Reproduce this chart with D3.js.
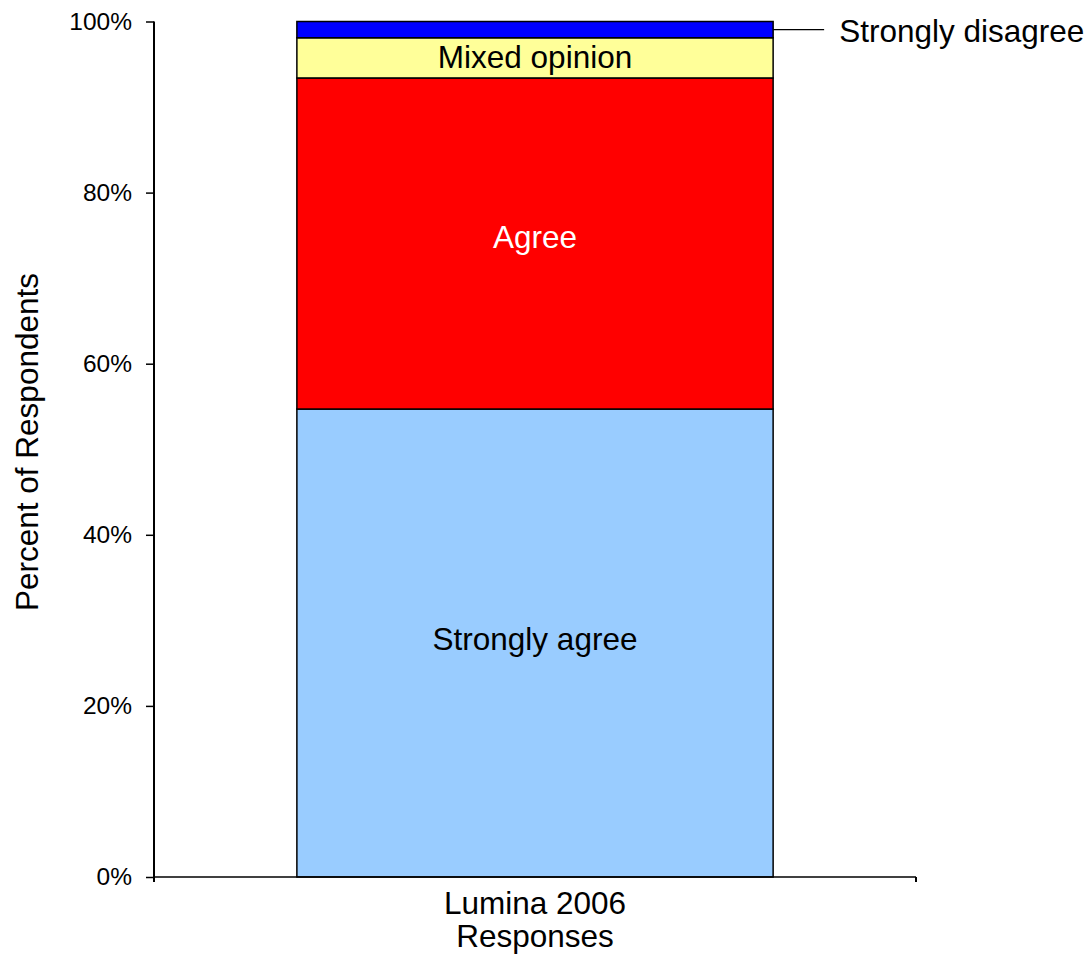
<!DOCTYPE html>
<html>
<head>
<meta charset="utf-8">
<script src="https://cdn.jsdelivr.net/npm/d3@7"></script>
<style>
  body { margin: 0; background: #fff; }
  svg text { font-family: "Liberation Sans", Arial, sans-serif; }
</style>
</head>
<body>
<div id="chart"></div>
<script>
'use strict';

// category on the x axis (two lines)
var categories = ['Lumina 2006 Responses'];
var category_lines = ['Lumina 2006', 'Responses'];

// stack order, bottom to top
var series_names = ['Strongly agree', 'Agree', 'Mixed opinion', 'Strongly disagree'];
var series_values = [54.7, 38.7, 4.7, 1.9];
var series_colors = ['#99ccff', '#ff0000', '#ffff99', '#0000ff'];
var label_colors = ['#000', '#fff', '#000', '#000'];
// baseline offset of each inside label from its segment middle (px)
var label_shift = [7, 4, 10.5];

var y_ticks = [0, 20, 40, 60, 80, 100];

var width = 1089, height = 955;
var margin = { top: 21.5, left: 154, right: 173, bottom: 78 };
var label_size = 31.5;

var svg = d3.select('#chart')
    .append('svg')
    .attr('width', width)
    .attr('height', height);

var y = d3.scaleLinear()
    .domain([0, 100])
    .range([height - margin.bottom, margin.top]);

var x = d3.scaleBand()
    .domain(categories)
    .range([margin.left, width - margin.right])
    .paddingInner(0)
    .paddingOuter(0.3);

// stack the values
var stacked = [];
var acc = 0;
series_values.forEach(function(v, i) {
    stacked.push({ name: series_names[i], y0: acc, y1: acc + v, color: series_colors[i], text: label_colors[i], shift: label_shift[i] });
    acc += v;
});

var bar = svg.append('g');
bar.selectAll('rect')
    .data(stacked)
    .enter()
    .append('rect')
    .attr('x', x(categories[0]))
    .attr('width', x.bandwidth())
    .attr('y', function(d) { return y(d.y1); })
    .attr('height', function(d) { return y(d.y0) - y(d.y1); })
    .attr('fill', function(d) { return d.color; })
    .attr('stroke', '#000')
    .attr('stroke-width', 1.5);

// labels inside the bar (all but the thin top one)
var cx = x(categories[0]) + x.bandwidth() / 2;
bar.selectAll('text.seg')
    .data(stacked.slice(0, 3))
    .enter()
    .append('text')
    .attr('class', 'seg')
    .attr('x', cx)
    .attr('y', function(d) { return (y(d.y0) + y(d.y1)) / 2 + d.shift; })
    .attr('text-anchor', 'middle')
    .attr('font-size', label_size)
    .attr('fill', function(d) { return d.text; })
    .text(function(d) { return d.name; });

// leader for the thin top segment
var top_seg = stacked[3];
var ly = (y(top_seg.y0) + y(top_seg.y1)) / 2;
var bar_right = x(categories[0]) + x.bandwidth();
svg.append('line')
    .attr('x1', bar_right)
    .attr('x2', bar_right + 51)
    .attr('y1', ly)
    .attr('y2', ly)
    .attr('stroke', '#000')
    .attr('stroke-width', 1.2);
svg.append('text')
    .attr('x', bar_right + 66)
    .attr('y', ly + 12)
    .attr('font-size', label_size)
    .text(top_seg.name);

// y axis
var y_axis = svg.append('g')
    .attr('transform', 'translate(' + margin.left + ',0)')
    .call(d3.axisLeft(y)
        .tickValues(y_ticks)
        .tickSize(8)
        .tickPadding(14)
        .tickFormat(function(d) { return d + '%'; }));
y_axis.select('.domain')
    .attr('d', 'M-0,' + y(100) + 'V' + (y(0) + 4))
    .attr('stroke-width', 2);
y_axis.selectAll('.tick line').attr('stroke-width', 1.5);
y_axis.selectAll('.tick text')
    .attr('font-size', 24.5)
    .attr('font-family', '"Liberation Sans", Arial, sans-serif')
    .attr('fill', '#000');

// x axis
var x_axis = svg.append('g')
    .attr('transform', 'translate(0,' + y(0) + ')');
x_axis.append('line')
    .attr('x1', margin.left)
    .attr('x2', width - margin.right)
    .attr('stroke', '#000')
    .attr('stroke-width', 1.5);
x_axis.selectAll('line.tk')
    .data(x.range())
    .enter()
    .append('line')
    .attr('class', 'tk')
    .attr('x1', function(d) { return d; })
    .attr('x2', function(d) { return d; })
    .attr('y1', 0)
    .attr('y2', 5)
    .attr('stroke', '#000')
    .attr('stroke-width', 2);

var x_label = svg.append('text')
    .attr('text-anchor', 'middle')
    .attr('font-size', label_size)
    .attr('x', cx)
    .attr('y', 914);
x_label.selectAll('tspan')
    .data(category_lines)
    .enter()
    .append('tspan')
    .attr('x', cx)
    .attr('dy', function(d, i) { return i == 0 ? 0 : 33; })
    .text(function(d) { return d; });

// y title
svg.append('text')
    .attr('transform', 'translate(38,' + 442 + ') rotate(-90)')
    .attr('text-anchor', 'middle')
    .attr('font-size', label_size)
    .text('Percent of Respondents');
</script>
</body>
</html>
